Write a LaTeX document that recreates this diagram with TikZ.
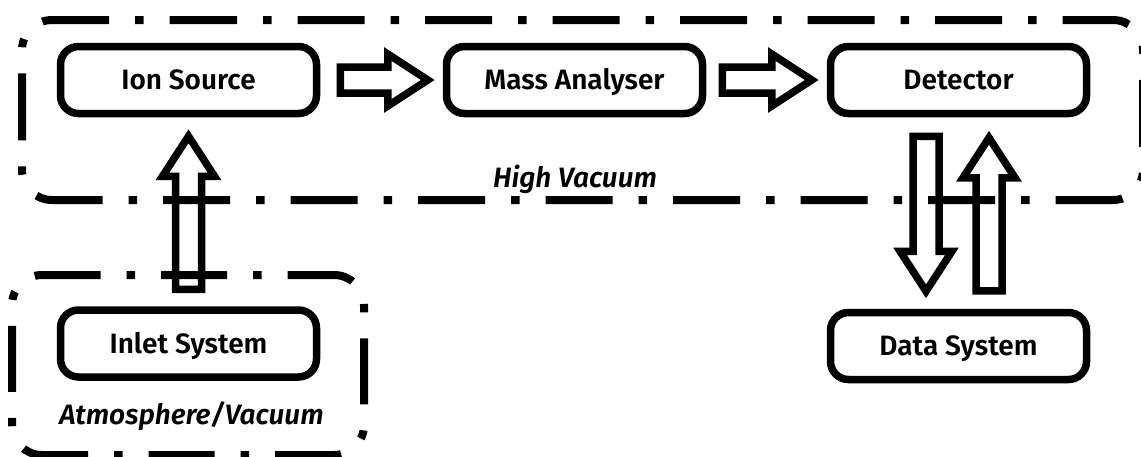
\documentclass[tikz,border=0pt]{standalone}
\usepackage{fontspec}
\setmainfont{Fira Sans}[BoldFont={Fira Sans SemiBold}, BoldItalicFont={Fira Sans SemiBold Italic}]
\usetikzlibrary{calc}

\tikzset{
  stage/.style={draw, line width=7.5pt, rounded corners=18pt,
    minimum width=256pt, minimum height=67pt, inner sep=0pt,
    font=\fontsize{28}{30}\selectfont\bfseries, text height=19pt, text depth=0pt},
  zone/.style={draw, line width=8pt, rounded corners=30pt,
    dash pattern=on #1 off 26pt on 8.5pt off 26pt},
  zonelabel/.style={inner sep=0pt, text height=18pt, text depth=0pt,
    font=\fontsize{28}{30}\selectfont\bfseries\itshape},
  hollow/.style={draw, line width=7.5pt, line join=miter}
}

% block arrow drawn as an open outline
\newcommand{\shafthw}{13pt}
\newcommand{\headhw}{26pt}
\newcommand{\headlen}{40pt}
\newcommand{\hollowarrow}[2]{%
  \coordinate (tail) at (#1);
  \coordinate (tip) at (#2);
  \coordinate (neck) at ($(tip)!\headlen!(tail)$);
  \draw[hollow] ($(tail)!\shafthw!90:(tip)$) -- ($(neck)!\shafthw!90:(tip)$)
    -- ($(neck)!\headhw!90:(tip)$) -- (tip) -- ($(neck)!\headhw!-90:(tip)$)
    -- ($(neck)!\shafthw!-90:(tip)$) -- ($(tail)!\shafthw!-90:(tip)$) -- cycle;
}

\begin{document}
\begin{tikzpicture}[x=1pt, y=-1pt]
  \useasboundingbox (0,0) rectangle (1141,456);

  % vacuum zones
  \draw[zone=67pt] (140,20) -- (1143,20) -- (1143,200) -- (22,200) -- (22,20) -- cycle;
  \draw[zone=66pt] (258,275) -- (364,275) -- (364,455) -- (12,455) -- (12,275) -- cycle;
  \node[zonelabel] (hv) at (575,178.5) {High Vacuum};
  \node[zonelabel] (av) at (191.5,415) {Atmosphere/Vacuum};

  % stages
  \node[stage] (ion) at (188.5,80) {Ion Source};
  \node[stage] (mass) at (574.5,80) {Mass Analyser};
  \node[stage] (det) at (958.5,80) {Detector};
  \node[stage] (inlet) at (188.5,343.5) {Inlet System};
  \node[stage] (data) at (958.5,346) {Data System};

  % flow
  \hollowarrow{$(ion.east)+(20,0)$}{$(mass.west)+(-15,0)$}
  \hollowarrow{$(mass.east)+(16,0)$}{$(det.west)+(-15,0)$}
  \hollowarrow{$(inlet.north)+(0,-17)$}{$(ion.south)+(0,19)$}
  \hollowarrow{$(det.south)+(-32.5,19)$}{$(data.north)+(-32.5,-17.5)$}
  \hollowarrow{$(data.north)+(30.5,-18)$}{$(det.south)+(30.5,20.5)$}
\end{tikzpicture}
\end{document}
